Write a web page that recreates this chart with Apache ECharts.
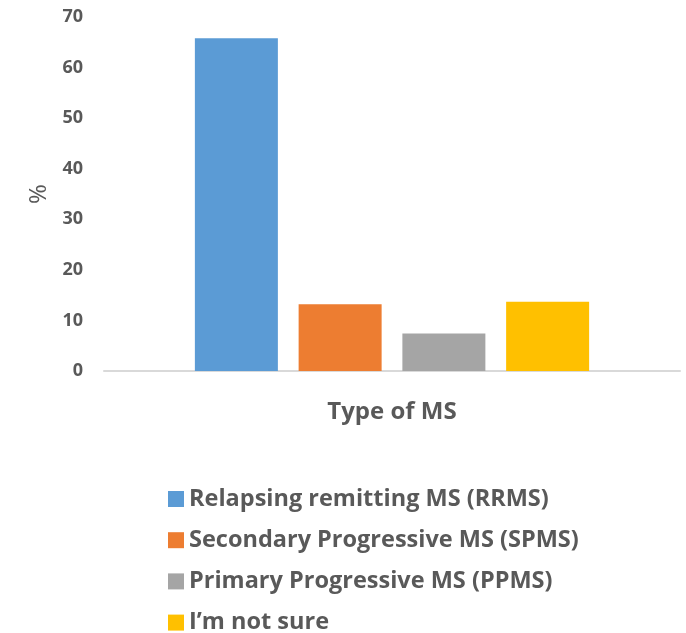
<!DOCTYPE html>
<html>
<head>
<meta charset="utf-8">
<script src="https://cdn.jsdelivr.net/npm/echarts@6/dist/echarts.min.js"></script>
<style>
  html, body { margin: 0; padding: 0; background: #fff; }
  #chart { width: 686px; height: 633px; }
</style>
</head>
<body>
<div id="chart"></div>
<script>
    const category = ['Type of MS'];
    const seriesNames = [
        'Relapsing remitting MS (RRMS)',
        'Secondary Progressive MS (SPMS)',
        'Primary Progressive MS (PPMS)',
        'I\u2019m not sure'
    ];
    const seriesValues = [65.8, 13.2, 7.4, 13.7];
    const colors = ['#5b9bd5', '#ed7d31', '#a5a5a5', '#ffc000'];

    const font = '"Open Sans", "Liberation Sans", sans-serif';

    var myChart = echarts.init(document.getElementById('chart'));

    const options = {
        animation: false,
        color: colors,
        grid: { left: 104, right: 6, top: 17, bottom: 262 },
        legend: {
            orient: 'vertical',
            left: 163,
            top: 482,
            height: 240,
            itemWidth: 16,
            itemHeight: 16,
            itemGap: 17.2,
            icon: 'rect',
            textStyle: {
                fontFamily: font, fontWeight: 'bold', fontSize: 23.5,
                color: '#595959'
            },
            data: seriesNames
        },
        xAxis: {
            type: 'category',
            data: category,
            name: 'Type of MS',
            nameLocation: 'middle',
            nameGap: 29,
            nameTextStyle: { fontFamily: font, fontWeight: 'bold', fontSize: 24, color: '#595959' },
            axisLine: { lineStyle: { color: '#d9d9d9', width: 2 } },
            axisTick: { show: false },
            axisLabel: { show: false }
        },
        yAxis: {
            type: 'value',
            min: 0,
            max: 70,
            interval: 10,
            name: '%',
            nameLocation: 'middle',
            nameGap: 52,
            nameRotate: 90,
            nameTextStyle: { fontFamily: font, fontSize: 24, color: '#595959' },
            axisLine: { show: false },
            axisTick: { show: false },
            splitLine: { show: false },
            axisLabel: {
                fontFamily: font, fontWeight: 'bold', fontSize: 18,
                color: '#595959', margin: 21
            }
        },
        series: seriesNames.map((name, i) => ({
            name: name,
            type: 'bar',
            barWidth: 83,
            barGap: '25%',
            data: [seriesValues[i]]
        }))
    };

    myChart.setOption(options, true);
</script>
</body>
</html>
